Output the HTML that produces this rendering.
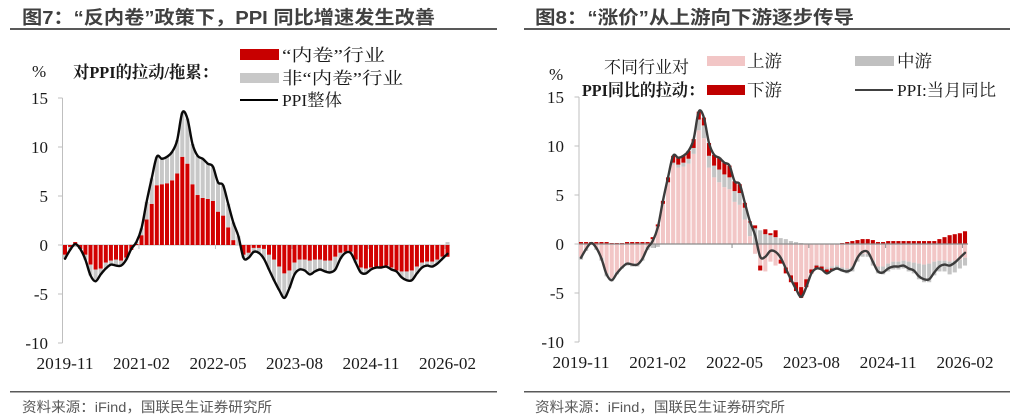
<!DOCTYPE html>
<html><head><meta charset="utf-8">
<style>
html,body{margin:0;padding:0;background:#fff;}
svg{display:block;}
.t{font-family:"Liberation Sans","Noto Sans CJK SC",sans-serif;font-weight:bold;fill:#404040;font-size:18.5px;}
.s{font-family:"Liberation Serif","Noto Serif CJK SC",serif;fill:#1a1a1a;font-size:17px;}
.b{font-weight:bold;}
.src{font-family:"Liberation Sans","Noto Sans CJK SC",sans-serif;fill:#595959;font-size:14px;}
</style></head><body>
<svg id="c" width="1024" height="416" viewBox="0 0 1024 416" xmlns="http://www.w3.org/2000/svg">
<rect x="0" y="0" width="1024" height="416" fill="#fff"/>
<!-- titles -->
<text class="t" x="22" y="24" textLength="413" lengthAdjust="spacingAndGlyphs">图7：“反内卷”政策下，PPI 同比增速发生改善</text>
<rect x="10" y="28" width="487" height="2" fill="#595959"/>
<text class="t" x="535" y="24" textLength="319" lengthAdjust="spacingAndGlyphs">图8：“涨价”从上游向下游逐步传导</text>
<rect x="524" y="28" width="486" height="2" fill="#595959"/>
<!-- footers -->
<rect x="10" y="391" width="487" height="1.5" fill="#595959"/>
<text class="src" x="22" y="412" textLength="250" lengthAdjust="spacingAndGlyphs">资料来源：iFind，国联民生证券研究所</text>
<rect x="524" y="391" width="486" height="1.5" fill="#595959"/>
<text class="src" x="535" y="412" textLength="250" lengthAdjust="spacingAndGlyphs">资料来源：iFind，国联民生证券研究所</text>

<!-- left legend -->
<text class="s" x="32" y="77">%</text>
<text class="s b" x="73" y="78" textLength="145" lengthAdjust="spacingAndGlyphs">对PPI的拉动/拖累：</text>
<rect x="240" y="49" width="39" height="11" fill="#c80000"/>
<text class="s" x="282" y="61" textLength="103" lengthAdjust="spacingAndGlyphs">“内卷”行业</text>
<rect x="240" y="73" width="39" height="10" fill="#c8c8c8"/>
<text class="s" x="282" y="84" textLength="121" lengthAdjust="spacingAndGlyphs">非“内卷”行业</text>
<line x1="240" y1="100" x2="278" y2="100" stroke="#000" stroke-width="2"/>
<text class="s" x="282" y="106" textLength="60" lengthAdjust="spacingAndGlyphs">PPI整体</text>

<!-- right legend -->
<text class="s" x="549" y="80">%</text>
<text class="s" x="604" y="73" textLength="85" lengthAdjust="spacingAndGlyphs">不同行业对</text>
<text class="s b" x="582" y="96" textLength="122" lengthAdjust="spacingAndGlyphs">PPI同比的拉动：</text>
<rect x="707" y="56" width="38" height="10" fill="#f2c6c6"/>
<text class="s" x="747" y="67" textLength="35" lengthAdjust="spacingAndGlyphs">上游</text>
<rect x="707" y="85" width="38" height="10" fill="#c00000"/>
<text class="s" x="747" y="96" textLength="35" lengthAdjust="spacingAndGlyphs">下游</text>
<rect x="855" y="56" width="39" height="10" fill="#c0c0c0"/>
<text class="s" x="897" y="67" textLength="35" lengthAdjust="spacingAndGlyphs">中游</text>
<line x1="855" y1="90" x2="893" y2="90" stroke="#404040" stroke-width="2"/>
<text class="s" x="897" y="96" textLength="99" lengthAdjust="spacingAndGlyphs">PPI:当月同比</text>

<!-- left axes -->
<line x1="62.5" y1="98" x2="62.5" y2="343" stroke="#bfbfbf" stroke-width="1"/>
<g stroke="#bfbfbf" stroke-width="1">
<line x1="58" y1="98" x2="62.5" y2="98"/><line x1="58" y1="147" x2="62.5" y2="147"/><line x1="58" y1="196" x2="62.5" y2="196"/><line x1="58" y1="245" x2="62.5" y2="245"/><line x1="58" y1="294" x2="62.5" y2="294"/><line x1="58" y1="343" x2="62.5" y2="343"/>
</g>
<g class="s" text-anchor="end">
<text class="s" x="48" y="104">15</text>
<text class="s" x="48" y="153">10</text>
<text class="s" x="48" y="202">5</text>
<text class="s" x="48" y="251">0</text>
<text class="s" x="48" y="300">-5</text>
<text class="s" x="48" y="349">-10</text>
</g>
<line x1="62.5" y1="245" x2="450" y2="245" stroke="#bfbfbf" stroke-width="1"/>
<g id="lticks" stroke="#bfbfbf" stroke-width="1"></g>
<g text-anchor="middle">
<text class="s" x="65" y="369" textLength="57" lengthAdjust="spacingAndGlyphs">2019-11</text>
<text class="s" x="141.5" y="369" textLength="57" lengthAdjust="spacingAndGlyphs">2021-02</text>
<text class="s" x="218" y="369" textLength="57" lengthAdjust="spacingAndGlyphs">2022-05</text>
<text class="s" x="294.5" y="369" textLength="57" lengthAdjust="spacingAndGlyphs">2023-08</text>
<text class="s" x="371" y="369" textLength="57" lengthAdjust="spacingAndGlyphs">2024-11</text>
<text class="s" x="447.5" y="369" textLength="57" lengthAdjust="spacingAndGlyphs">2026-02</text>
</g>
<g id="lbars"></g>
<g id="lline"></g>

<!-- right axes -->
<line x1="579" y1="97" x2="579" y2="342" stroke="#bfbfbf" stroke-width="1"/>
<g stroke="#bfbfbf" stroke-width="1">
<line x1="574.5" y1="97" x2="579" y2="97"/><line x1="574.5" y1="146" x2="579" y2="146"/><line x1="574.5" y1="195" x2="579" y2="195"/><line x1="574.5" y1="244" x2="579" y2="244"/><line x1="574.5" y1="293" x2="579" y2="293"/><line x1="574.5" y1="342" x2="579" y2="342"/>
</g>
<g text-anchor="end">
<text class="s" x="564" y="103">15</text>
<text class="s" x="564" y="152">10</text>
<text class="s" x="564" y="201">5</text>
<text class="s" x="564" y="250">0</text>
<text class="s" x="564" y="299">-5</text>
<text class="s" x="564" y="348">-10</text>
</g>
<g text-anchor="middle">
<text class="s" x="581" y="368" textLength="57" lengthAdjust="spacingAndGlyphs">2019-11</text>
<text class="s" x="657.8" y="368" textLength="57" lengthAdjust="spacingAndGlyphs">2021-02</text>
<text class="s" x="734.6" y="368" textLength="57" lengthAdjust="spacingAndGlyphs">2022-05</text>
<text class="s" x="811.4" y="368" textLength="57" lengthAdjust="spacingAndGlyphs">2023-08</text>
<text class="s" x="888.2" y="368" textLength="57" lengthAdjust="spacingAndGlyphs">2024-11</text>
<text class="s" x="965" y="368" textLength="57" lengthAdjust="spacingAndGlyphs">2026-02</text>
</g>
<g id="rbars"></g>
<line x1="579" y1="244" x2="968" y2="244" stroke="#8c8c8c" stroke-width="1.2"/>
<g id="rticks" stroke="#8c8c8c" stroke-width="1"></g>
<g id="rline"></g>
</svg>
<script>
(function(){
const NS="http://www.w3.org/2000/svg";
function el(tag,attrs,parent){const e=document.createElementNS(NS,tag);for(const k in attrs)e.setAttribute(k,attrs[k]);parent.appendChild(e);return e;}
const ppi=[-1.4,-0.5,0.1,-0.4,-1.5,-3.1,-3.7,-3.0,-2.4,-2.0,-2.1,-2.1,-1.5,-0.4,0.3,1.7,4.4,6.8,9.0,8.8,9.0,9.5,10.7,13.5,12.9,10.3,9.1,8.8,8.3,8.0,6.4,6.1,4.2,2.3,0.9,-1.3,-1.3,-0.7,-0.8,-1.4,-2.5,-3.6,-4.6,-5.4,-4.4,-3.0,-2.5,-2.6,-3.0,-2.7,-2.5,-2.7,-2.8,-2.5,-1.4,-0.8,-0.8,-1.8,-2.8,-2.9,-2.5,-2.3,-2.3,-2.2,-2.5,-2.7,-3.3,-3.6,-3.6,-2.9,-2.3,-2.1,-2.2,-1.9,-1.4,-0.9];
const red=[-1.0,-0.2,0.3,-0.4,-1.0,-2.0,-2.5,-2.4,-1.8,-1.6,-1.5,-1.6,-1.3,-0.5,0.1,1.0,2.6,4.2,6.1,6.2,6.3,6.6,7.3,9.0,8.3,6.2,5.1,4.8,4.7,4.5,3.4,3.0,1.8,0.5,0.0,-1.0,-0.8,-0.3,-0.3,-0.4,-1.0,-1.5,-2.2,-2.9,-2.6,-1.8,-1.5,-1.5,-1.6,-1.5,-1.5,-1.6,-1.6,-1.2,-0.8,-0.7,-0.7,-1.5,-2.3,-2.4,-2.3,-2.2,-2.2,-2.1,-2.3,-2.6,-2.7,-2.7,-2.6,-2.2,-1.8,-1.7,-1.7,-1.5,-1.2,-1.2];
const gray=ppi.map((v,i)=>+(v-red[i]).toFixed(2));
const up=[-1.3,-0.5,0.0,-0.4,-1.4,-3.0,-3.5,-2.9,-2.3,-1.9,-2.0,-2.0,-1.5,-0.3,0.5,1.8,4.1,6.2,8.1,7.8,7.9,8.2,9.2,11.6,10.8,7.8,6.8,6.3,5.8,5.6,4.3,4.0,2.5,0.8,-1.0,-2.2,-2.8,-1.8,-2.2,-1.6,-2.4,-3.2,-3.9,-4.4,-3.6,-2.6,-2.1,-2.2,-2.4,-2.3,-2.2,-2.4,-2.5,-2.3,-1.5,-1.0,-1.0,-1.7,-2.3,-2.3,-2.0,-1.8,-1.8,-1.7,-1.8,-1.9,-2.0,-2.1,-2.0,-1.8,-1.7,-1.7,-1.8,-1.7,-1.6,-1.4];
const down=[0.2,0.2,0.2,0.2,0.2,0.2,0.1,0.1,0.1,0.2,0.2,0.2,0.2,0.2,0.2,0.2,0.3,0.5,0.7,0.7,0.7,0.8,0.9,0.8,0.8,1.3,1.1,1.2,1.2,1.2,1.0,0.9,0.5,0.1,0.3,-0.5,0.5,0.2,0.7,-0.4,-0.6,-0.7,-0.9,-1.1,-0.8,-0.4,-0.3,-0.3,-0.4,-0.2,0.0,0.1,0.2,0.3,0.4,0.5,0.5,0.4,0.2,0.2,0.3,0.3,0.3,0.3,0.3,0.3,0.3,0.3,0.3,0.3,0.5,0.7,0.9,1.0,1.1,1.3];
const mid=ppi.map((v,i)=>+(v-up[i]-down[i]).toFixed(2));

function stack(x0,step,w,zero,scale,series,colors,g){
  for(let i=0;i<ppi.length;i++){
    let pos=0,neg=0;const cx=x0+i*step;
    for(let s=0;s<series.length;s++){
      const v=series[s][i]; if(Math.abs(v)<0.01)continue;
      let a,b;
      if(v>0){a=pos;pos+=v;b=pos;}else{a=neg;neg+=v;b=neg;}
      const ya=zero-Math.max(a,b)*scale, yb=zero-Math.min(a,b)*scale;
      el('rect',{x:(cx-w/2).toFixed(2),y:ya.toFixed(2),width:w,height:(yb-ya).toFixed(2),fill:colors[s]},g);
    }
  }
}
function line(x0,step,zero,scale,vals,color,g){
  const pts=vals.map((v,i)=>[x0+i*step,zero-v*scale]);
  let d='M'+pts[0][0].toFixed(2)+','+pts[0][1].toFixed(2);
  for(let i=0;i<pts.length-1;i++){
    const p0=pts[Math.max(0,i-1)],p1=pts[i],p2=pts[i+1],p3=pts[Math.min(pts.length-1,i+2)];
    const t=1/6;
    const c1=[p1[0]+(p2[0]-p0[0])*t,p1[1]+(p2[1]-p0[1])*t];
    const c2=[p2[0]-(p3[0]-p1[0])*t,p2[1]-(p3[1]-p1[1])*t];
    d+=' C'+c1[0].toFixed(2)+','+c1[1].toFixed(2)+' '+c2[0].toFixed(2)+','+c2[1].toFixed(2)+' '+p2[0].toFixed(2)+','+p2[1].toFixed(2);
  }
  el('path',{d:d,fill:'none',stroke:color,'stroke-width':2.4,'stroke-linejoin':'round','stroke-linecap':'round'},g);
}
const L={x0:65,step:5.1,zero:245,scale:9.8};
const R={x0:581,step:5.12,zero:244,scale:9.8};
stack(L.x0,L.step,4.0,L.zero,L.scale,[red,gray],['#d20000','#c8c8c8'],document.getElementById('lbars'));
line(L.x0,L.step,L.zero,L.scale,ppi,'#0a0a0a',document.getElementById('lline'));
stack(R.x0,R.step,4.1,R.zero,R.scale,[up,mid,down],['#f2c6c6','#c4c4c4','#c40000'],document.getElementById('rbars'));
line(R.x0,R.step,R.zero,R.scale,ppi,'#3c3c3c',document.getElementById('rline'));
const lt=document.getElementById('lticks'), rt=document.getElementById('rticks');
for(let k=1;k<=5;k++){
  const xl=L.x0+(15*k-0.5)*L.step; el('line',{x1:xl,y1:245,x2:xl,y2:249},lt);
  const xr=R.x0+(15*k-0.5)*R.step; el('line',{x1:xr,y1:244,x2:xr,y2:248},rt);
}
})();
</script>
</body></html>
